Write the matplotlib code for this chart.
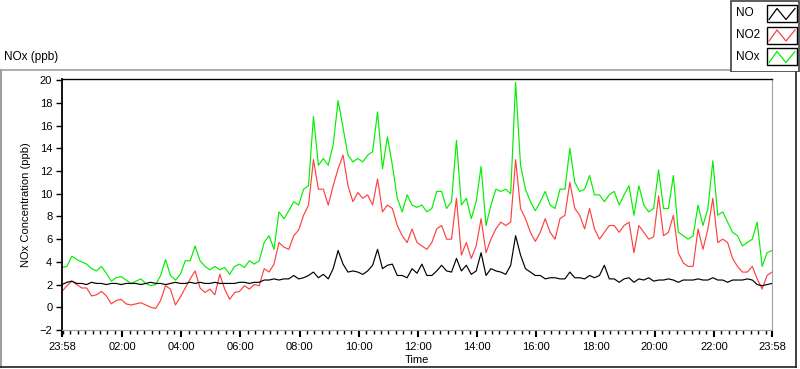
import numpy as np
import matplotlib
matplotlib.use("Agg")
import matplotlib.pyplot as plt
from matplotlib.patches import Rectangle

plt.rcParams["font.family"] = ["Liberation Sans", "DejaVu Sans"]

# ============================================================
# DONNEES (lues sur le graphique, pas de 10 min depuis 23:58)
# ============================================================

noms_series = ["NO", "NO2", "NOx"]
couleurs_series = ["#000000", "#ff4040", "#00f000"]

no = [2.0, 2.2, 2.3, 2.1, 2.1, 2.0, 2.2, 2.1, 2.1, 2.0, 2.1, 2.1, 2.0, 2.1, 2.1, 2.1, 2.0, 2.1, 2.2, 2.1, 2.1, 2.0, 2.1, 2.2, 2.1,
      2.1, 2.2, 2.1, 2.2, 2.1, 2.1, 2.2, 2.1, 2.1, 2.1, 2.1, 2.2, 2.2, 2.1, 2.2, 2.2, 2.4, 2.4, 2.5, 2.4, 2.5, 2.5, 2.8,
      2.5,
      2.6, 2.8, 3.1, 2.6, 2.9, 2.5, 3.4, 5.0, 3.8, 3.1, 3.2, 3.1, 2.9, 3.2, 3.7, 5.1, 3.4, 3.7, 3.8, 2.8, 2.8, 2.6, 3.4,
      3.0,
      3.8, 2.8, 2.8, 3.2, 3.7, 3.2, 3.1, 4.3, 3.2, 3.7, 2.9, 3.2, 4.8, 2.8, 3.4, 3.2, 3.1, 2.9, 3.7, 6.3, 4.6, 3.4, 3.1,
      2.8,
      2.8, 2.5, 2.6, 2.6, 2.5, 2.5, 3.1, 2.6, 2.6, 2.5, 2.8, 2.6, 2.8, 3.7, 2.5, 2.5, 2.2, 2.5, 2.6, 2.2, 2.5, 2.4, 2.6,
      2.3,
      2.4, 2.4, 2.5, 2.4, 2.2, 2.4, 2.4, 2.4, 2.5, 2.4, 2.4, 2.6, 2.4, 2.4, 2.2, 2.4, 2.4, 2.4, 2.5, 2.4, 2.0, 1.9, 2.0, 2.1]

no2 = [1.4, 1.9, 2.3, 2.0, 1.7, 1.7, 1.0, 1.1, 1.4, 1.0, 0.3, 0.6, 0.7, 0.3, 0.2, 0.3, 0.4, 0.2, 0.0, -0.1, 0.6, 1.9, 1.6, 0.2, 0.9,
       1.7, 2.5, 3.2, 1.7, 1.3, 1.6, 1.1, 2.9, 1.6, 0.7, 1.3, 1.4, 1.9, 1.6, 2.0, 1.9, 3.4, 3.1, 3.8, 5.7, 5.3, 5.1, 6.3,
       6.8,
       8.1, 9.0, 13.0, 10.4, 10.4, 9.0, 10.7, 12.2, 13.4, 10.7, 9.3, 10.1, 9.6, 9.9, 9.0, 11.3, 8.4, 9.0, 8.7, 7.2, 6.3, 5.7, 6.9,
       5.7,
       5.4, 5.1, 5.7, 6.9, 7.2, 6.0, 6.0, 9.6, 4.6, 5.7, 4.3, 5.4, 7.8, 4.8, 6.0, 6.9, 7.5, 7.2, 7.5, 13.0, 8.7, 7.8, 6.6,
       5.8,
       6.6, 7.8, 6.6, 6.0, 7.8, 8.1, 11.0, 8.7, 8.1, 6.9, 8.7, 6.9, 6.0, 6.6, 7.2, 7.2, 6.6, 7.2, 7.5, 4.8, 7.2, 6.6, 6.0,
       6.2,
       9.8, 6.3, 6.6, 8.1, 4.8, 3.9, 3.6, 3.6, 6.9, 5.1, 6.9, 9.6, 5.7, 6.0, 5.7, 4.3, 3.6, 3.1, 3.1, 3.6, 2.5, 1.6, 2.8, 3.1]

nox = [3.5, 3.6, 4.5, 4.2, 4.0, 3.8, 3.4, 3.2, 3.6, 3.0, 2.3, 2.6, 2.7, 2.4, 2.1, 2.3, 2.5, 2.1, 1.9, 2.0, 2.8, 4.2, 2.8, 2.4, 2.9,
       4.1, 4.1, 5.4, 4.1, 3.6, 3.3, 3.6, 3.3, 3.5, 2.9, 3.6, 3.8, 3.5, 4.1, 3.8, 4.1, 5.7, 6.3, 5.1, 8.4, 7.8, 8.5, 9.3,
       9.0,
       10.4, 10.7, 16.8, 12.5, 13.1, 12.5, 14.3, 18.2, 15.8, 13.4, 12.8, 13.1, 12.8, 13.4, 13.7, 17.2, 12.2, 15.0, 12.5, 9.6, 8.4, 9.9, 9.0,
       8.8,
       9.0, 8.4, 8.7, 10.2, 10.2, 8.7, 9.3, 14.7, 9.0, 9.6, 7.8, 9.3, 12.4, 7.2, 9.0, 10.4, 10.2, 10.4, 10.0, 19.8, 12.5, 10.4, 9.3,
       8.5,
       9.3, 10.2, 9.0, 8.7, 10.4, 10.4, 14.0, 11.0, 10.2, 10.4, 11.6, 9.9, 9.9, 9.3, 9.9, 10.2, 9.0, 9.9, 10.7, 8.1, 10.7, 9.0, 8.4,
       8.7,
       12.1, 8.7, 8.7, 11.6, 6.6, 6.3, 6.0, 6.3, 9.0, 7.2, 8.7, 12.9, 8.1, 8.4, 7.5, 6.6, 6.3, 5.4, 5.7, 6.0, 7.5, 3.6, 4.8, 5.0]

pas_minutes = 10
ticks_minutes = [0, 122, 242, 362, 482, 602, 722, 842, 962, 1082, 1202, 1322, 1440]
ticks_labels = ["23:58", "02:00", "04:00", "06:00", "08:00", "10:00", "12:00",
                "14:00", "16:00", "18:00", "20:00", "22:00", "23:58"]

# ============================================================
# FIGURE
# ============================================================

W, H = 800, 369
fig = plt.figure(figsize=(W / 100, H / 100), dpi=100)
fig.patch.set_facecolor("white")

# cadre autour du graphe (coordonnees en pixels)
cadre = fig.add_axes([0, 0, 1, 1], zorder=-2)
cadre.set_xlim(0, W)
cadre.set_ylim(H, 0)
cadre.axis("off")
cadre.plot([0, 730], [69.5, 69.5], color="#a0a0a0", lw=1.2)
cadre.plot([1, 1], [69.5, 367], color="#a0a0a0", lw=1.5)
cadre.plot([0, 796], [367, 367], color="#202020", lw=1.2)
cadre.plot([796, 796], [72, 367], color="#202020", lw=1.2)
cadre.text(4, 57, "NOx (ppb)", fontsize=8.5, ha="left", va="center")

# zone du graphe
ax = fig.add_axes([62 / W, 1 - 330 / H, 710 / W, 251 / H])
x = np.arange(len(nox)) * pas_minutes

ax.plot(x, nox, color=couleurs_series[2], lw=0.85)
ax.plot(x, no2, color=couleurs_series[1], lw=0.85)
ax.plot(x, no, color=couleurs_series[0], lw=0.85)

ax.set_xlim(0, 1440)
ax.set_ylim(-2, 20.1)
ax.set_yticks(range(-2, 21, 2))
ax.set_xticks(ticks_minutes)
ax.set_xticklabels(ticks_labels)
ax.set_xticks(np.arange(2, 1440, 15), minor=True)

ax.tick_params(axis="y", direction="out", length=4, width=1, pad=3, labelsize=8)
ax.tick_params(axis="x", which="major", direction="out", length=5, width=1.5, pad=4, labelsize=8)
ax.tick_params(axis="x", which="minor", direction="out", length=3, width=1)

ax.spines["left"].set_color("black")
ax.spines["left"].set_linewidth(1.3)
ax.spines["top"].set_color("black")
ax.spines["top"].set_linewidth(1.0)
ax.spines["right"].set_color("#a0a0a0")
ax.spines["bottom"].set_color("#a0a0a0")

ax.set_xlabel("Time", fontsize=8, labelpad=2)
ax.set_ylabel("NOx Concentration (ppb)", fontsize=8, labelpad=6)

# legende a droite en haut (style LabVIEW)
leg = fig.add_axes([730 / W, 1 - 72 / H, 70 / W, 72 / H])
leg.set_xlim(730, 800)
leg.set_ylim(72, 0)
leg.axis("off")
leg.add_patch(Rectangle((730.5, 0.5), 68.5, 71, fill=False, edgecolor="#404040", lw=1.2))

y_lignes = [13.5, 35, 56.5]
for nom, couleur, yy in zip(noms_series, couleurs_series, y_lignes):
    leg.text(736, yy, nom, fontsize=8.5, ha="left", va="center")
    leg.add_patch(Rectangle((767, yy - 8.5), 30, 17, facecolor="white", edgecolor="black", lw=1.0))
    leg.plot([769, 777, 786, 795], [yy + 6, yy - 5, yy + 6, yy - 5], color=couleur, lw=0.9)

fig.savefig("out.png", dpi=100)
